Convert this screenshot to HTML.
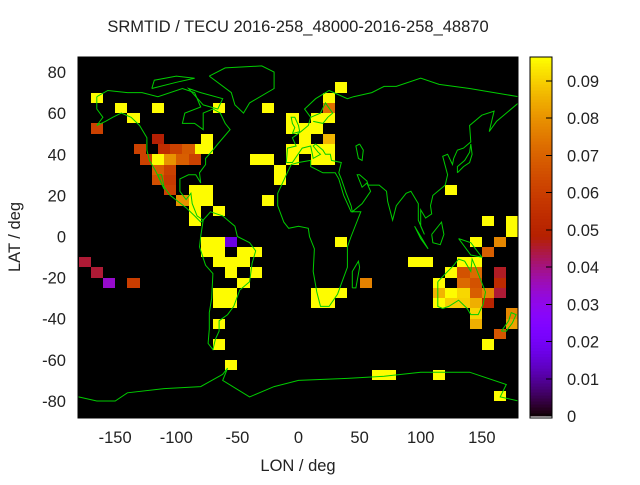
<!DOCTYPE html>
<html><head><meta charset="utf-8"><style>
body{margin:0;background:#fff;}
svg text{font-family:"Liberation Sans",sans-serif;font-size:16.5px;fill:#222;}
</style></head><body>
<svg id="chart" width="640" height="480" xmlns="http://www.w3.org/2000/svg">
<text x="298" y="32" text-anchor="middle">SRMTID / TECU 2016-258_48000-2016-258_48870</text>
<defs><clipPath id="pc"><rect x="78" y="57" width="440" height="361"/></clipPath></defs>
<rect x="78" y="57" width="440" height="361" fill="#000"/>
<g id="cells" clip-path="url(#pc)" shape-rendering="crispEdges"></g>
<g id="coast" clip-path="url(#pc)"></g>
<rect x="78" y="57" width="440" height="361" fill="none" stroke="#000"/>
<g id="xticks"></g>
<g id="yticks"></g>
<text x="298" y="471" text-anchor="middle">LON / deg</text>
<text transform="translate(20,237) rotate(-90)" text-anchor="middle">LAT / deg</text>
<g id="cbar" shape-rendering="crispEdges"></g>
</svg>
<script>
const NS="http://www.w3.org/2000/svg";
const vmax=0.0964;
const xTicks=[-150,-100,-50,0,50,100,150];
const yTicks=[80,60,40,20,0,-20,-40,-60,-80];
const cbTicks=[0,0.01,0.02,0.03,0.04,0.05,0.06,0.07,0.08,0.09];
const Y=0.096;
const cellLon=[-165,-145,-135,-165,-115,-65,-25,-5,-5,-115,-130,-110,-100,-90,-80,-75,-75,-125,-115,-105,-95,-85,-35,-25,-5,-5,-15,-15,-115,-105,-115,-105,-105,-85,-75,-95,-85,-75,-25,-85,-65,-85,
-75,-65,-55,-75,-65,-45,-35,-175,-65,-55,-45,-35,-165,-55,-45,-155,-135,-65,-55,-65,-55,-65,-65,-55,
35,25,25,15,25,5,15,5,25,5,15,25,15,25,125,155,175,175,
35,145,165,155,95,105,135,145,125,135,145,165,115,135,145,165,55,15,25,35,115,125,135,145,155,165,15,25,115,125,135,145,155,145,175,145,175,165,155,65,75,115,165];
const cellLat=[67.5,62.5,57.5,52.5,62.5,62.5,62.5,57.5,52.5,47.5,42.5,42.5,42.5,42.5,42.5,47.5,42.5,37.5,37.5,37.5,37.5,37.5,37.5,37.5,42.5,37.5,32.5,27.5,32.5,32.5,27.5,27.5,22.5,22.5,22.5,17.5,17.5,17.5,17.5,12.5,12.5,7.5,
-2.5,-2.5,-2.5,-7.5,-7.5,-7.5,-7.5,-12.5,-12.5,-12.5,-12.5,-17.5,-17.5,-17.5,-22.5,-22.5,-22.5,-27.5,-27.5,-32.5,-32.5,-42.5,-52.5,-62.5,
72.5,67.5,62.5,57.5,57.5,52.5,52.5,47.5,47.5,42.5,42.5,42.5,37.5,37.5,22.5,7.5,7.5,2.5,
-2.5,-2.5,-2.5,-7.5,-12.5,-12.5,-12.5,-12.5,-17.5,-17.5,-17.5,-17.5,-22.5,-22.5,-22.5,-22.5,-22.5,-27.5,-27.5,-27.5,-27.5,-27.5,-27.5,-27.5,-27.5,-27.5,-32.5,-32.5,-32.5,-32.5,-32.5,-32.5,-32.5,-37.5,-37.5,-42.5,-42.5,-47.5,-52.5,-67.5,-67.5,-67.5,-77.5];
const cellVal=[Y,Y,Y,0.061,Y,Y,Y,Y,Y,0.048,0.061,0.054,0.061,0.068,Y,Y,Y,0.061,Y,0.080,0.069,0.061,Y,Y,Y,Y,Y,Y,0.069,0.061,0.065,0.059,0.061,Y,Y,0.080,Y,Y,Y,Y,Y,Y,
Y,Y,0.017,Y,Y,Y,Y,0.045,Y,Y,Y,Y,0.045,Y,Y,0.034,0.060,Y,Y,Y,Y,Y,Y,Y,
Y,Y,0.073,Y,Y,Y,Y,Y,0.086,Y,Y,Y,Y,Y,Y,Y,Y,Y,
Y,Y,0.078,0.069,Y,Y,Y,Y,Y,0.066,0.072,0.046,Y,0.072,0.066,0.053,0.077,Y,Y,Y,0.086,Y,0.091,0.069,0.078,0.045,Y,Y,Y,0.090,0.090,0.085,0.050,0.091,0.078,0.085,0.083,0.067,Y,Y,Y,Y,Y];
function X(l){return 298.5+1.2222*l;}
function YY(l){return 236.5-2.056*l;}
function col(v){let x=Math.max(0,Math.min(1,v/vmax));let r=Math.sqrt(x),g=x*x*x,b=Math.max(0,Math.sin(2*Math.PI*x));
return `rgb(${Math.round(r*255)},${Math.round(g*255)},${Math.round(b*255)})`;}
const cg=document.getElementById('cells');
for(let i=0;i<cellLon.length;i++){
 const r=document.createElementNS(NS,'rect');
 
 
 const x0=Math.round(X(cellLon[i]-5)),x1=Math.round(X(cellLon[i]+5)),y0=Math.round(YY(cellLat[i]+2.5)),y1=Math.round(YY(cellLat[i]-2.5));
 r.setAttribute('x',x0);r.setAttribute('y',y0);r.setAttribute('width',x1-x0);r.setAttribute('height',y1-y0);
 r.setAttribute('fill',col(cellVal[i]));cg.appendChild(r);
}
const coasts=[
[[-165,68],[-156,71],[-140,70],[-128,70],[-115,68],[-95,72],[-85,70],[-80,63],[-93,60],[-95,55],[-85,55],[-78,52],[-78,60],[-70,62],[-64,60],[-60,55],[-56,52],[-66,45],[-70,42],[-76,38],[-76,35],[-81,31],[-80,26],[-82,28],[-84,30],[-90,30],[-97,28],[-97,22],[-92,18],[-88,21],[-87,16],[-83,10],[-78,8],[-80,7],[-85,10],[-92,14],[-105,20],[-110,24],[-112,30],[-115,30],[-110,23],[-117,32],[-122,37],[-124,42],[-124,48],[-130,54],[-137,58],[-145,60],[-152,58],[-158,56],[-165,54],[-160,58],[-165,62],[-165,68]],
[[-73,78],[-60,82],[-30,83],[-20,80],[-20,72],[-40,65],[-45,60],[-52,64],[-55,70],[-73,78]],
[[-80,70],[-62,67],[-66,62],[-78,64],[-90,72],[-80,70]],
[[-120,72],[-100,75],[-85,77],[-100,78],[-118,76],[-120,72]],
[[-78,8],[-72,12],[-62,10],[-52,5],[-50,0],[-40,-3],[-35,-7],[-38,-13],[-40,-22],[-48,-26],[-53,-34],[-58,-38],[-65,-41],[-65,-46],[-68,-50],[-70,-55],[-74,-52],[-73,-45],[-73,-37],[-71,-30],[-70,-18],[-76,-14],[-81,-5],[-80,0],[-78,8]],
[[-10,36],[-9,43],[-2,44],[-5,48],[2,51],[8,54],[10,58],[5,62],[14,67],[25,71],[40,67],[45,68],[60,70],[70,73],[80,73],[100,77],[115,74],[140,72],[160,70],[180,68],[180,65],[170,60],[162,56],[156,51],[160,61],[150,59],[140,54],[141,46],[135,43],[130,42],[127,38],[126,35],[122,40],[118,39],[122,30],[120,25],[110,20],[108,15],[109,11],[104,9],[100,13],[100,5],[103,1],[98,8],[98,16],[92,22],[88,21],[80,15],[77,8],[73,17],[72,22],[66,25],[57,25],[56,27],[50,30],[48,30],[52,24],[56,26],[59,22],[52,16],[44,12],[43,15],[39,21],[35,28],[33,31],[35,36],[27,37],[26,40],[22,40],[20,42],[14,45],[12,44],[16,41],[18,40],[12,38],[10,44],[3,43],[-5,36],[-10,36]],
[[-17,21],[-17,15],[-12,7],[-8,4],[0,5],[8,4],[9,0],[13,-6],[12,-17],[15,-27],[18,-34],[25,-34],[32,-28],[35,-23],[40,-15],[40,-5],[43,0],[51,12],[43,12],[37,20],[33,28],[30,31],[20,31],[10,34],[10,37],[0,36],[-6,35],[-10,30],[-17,21]],
[[114,-22],[114,-34],[118,-35],[123,-34],[131,-31],[138,-35],[141,-38],[147,-38],[151,-33],[153,-27],[145,-15],[142,-11],[141,-17],[136,-12],[131,-11],[127,-14],[122,-17],[114,-22]],
[[-180,-78],[-165,-80],[-150,-80],[-140,-76],[-110,-74],[-80,-73],[-62,-67],[-58,-64],[-62,-70],[-40,-78],[-20,-73],[0,-70],[40,-69],[70,-68],[100,-66],[140,-66],[170,-72],[165,-78],[180,-80]],
[[44,-25],[47,-25],[50,-15],[49,-12],[44,-17],[44,-25]],
[[-5,50],[1,51],[0,54],[-3,58],[-6,58],[-5,55],[-3,53],[-5,50]],
[[130,31],[135,34],[140,36],[142,40],[141,45],[140,41],[136,37],[130,34],[130,31]],
[[166,-46],[172,-41],[174,-37],[178,-38],[175,-42],[170,-46],[166,-46]],
[[95,5],[106,-6],[100,-1],[95,5]],[[109,1],[117,7],[119,1],[116,-4],[110,-3],[109,1]],
[[131,-1],[141,-3],[150,-10],[141,-9],[131,-1]],[[10,58],[18,60],[22,65],[28,60],[24,58],[20,55],[12,56]],
[[50,45],[53,42],[52,37],[49,38],[47,44],[50,45]]];
const cog=document.getElementById('coast');
coasts.forEach(p=>{const e=document.createElementNS(NS,'polyline');
 
 
 e.setAttribute('points',p.map(q=>X(q[0]).toFixed(1)+','+YY(q[1]).toFixed(1)).join(' '));
 e.setAttribute('fill','none');e.setAttribute('stroke','#00cc00');e.setAttribute('stroke-width','1');cog.appendChild(e);});
const xg=document.getElementById('xticks');
xTicks.forEach(t=>{const e=document.createElementNS(NS,'text');
 
 
 e.setAttribute('x',X(t));e.setAttribute('y',443);e.setAttribute('text-anchor','middle');e.textContent=t;xg.appendChild(e);});
const yg=document.getElementById('yticks');
yTicks.forEach(t=>{const e=document.createElementNS(NS,'text');
 
 
 e.setAttribute('x',66);e.setAttribute('y',YY(t)+6);e.setAttribute('text-anchor','end');e.textContent=t;yg.appendChild(e);});
const cb=document.getElementById('cbar');
const cy=v=>416-v*3725;
for(let i=0;i<120;i++){const v0=i/120*vmax,v1=(i+1)/120*vmax;
 const r=document.createElementNS(NS,'rect');
 
 
 r.setAttribute('x',530);r.setAttribute('y',cy(v1));r.setAttribute('width',22);r.setAttribute('height',Math.min(418,cy(v0)+0.6)-cy(v1));r.setAttribute('fill',col((v0+v1)/2));cb.appendChild(r);}
const bd=document.createElementNS(NS,'rect');


bd.setAttribute('x',530);bd.setAttribute('y',57);bd.setAttribute('width',22);bd.setAttribute('height',361);bd.setAttribute('fill','none');bd.setAttribute('stroke','#000');cb.appendChild(bd);
cbTicks.forEach(t=>{const l=document.createElementNS(NS,'line');
 
 
 l.setAttribute('x1',546);l.setAttribute('x2',552);l.setAttribute('y1',cy(t));l.setAttribute('y2',cy(t));l.setAttribute('stroke','#000');cb.appendChild(l);
 const e=document.createElementNS(NS,'text');
 
 
 e.setAttribute('x',567);e.setAttribute('y',cy(t)+6);e.textContent=t===0?'0':t.toFixed(2);cb.appendChild(e);});
</script>
</body></html>
